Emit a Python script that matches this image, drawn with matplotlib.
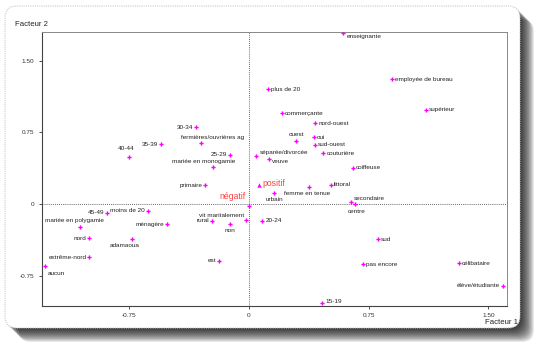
import numpy as np
import matplotlib
matplotlib.use("Agg")
import matplotlib.pyplot as plt
from matplotlib.patches import FancyBboxPatch

plt.rcParams['font.family'] = ['Liberation Sans', 'DejaVu Sans']

# coordonnees des modalites sur les facteurs 1 et 2
labels = ['enseignante', 'employée de bureau', 'supérieur', 'plus de 20', 'commerçante',
          'nord-ouest', 'ouest', 'oui', 'sud-ouest', 'couturière', 'séparée/divorcée',
          'veuve', 'coiffeuse', '30-34', 'fermières/ouvrières ag', '35-39', '40-44',
          '25-29', 'mariée en monogamie', 'primaire', 'femme en tenue', 'littoral',
          'urbain', 'secondaire', 'centre', '20-24', 'vit maritalement', 'rural', 'non',
          'est', 'moins de 20', 'ménagère', '45-49', 'mariée en polygamie', 'nord',
          'adamaoua', 'extrême-nord', 'aucun', 'sud', 'pas encore', 'célibataire',
          'élève/étudiante', '15-19']
f1 = [0.590, 0.895, 1.108, 0.117, 0.205,
      0.414, 0.295, 0.408, 0.412, 0.466, 0.042,
      0.123, 0.652, -0.334, -0.303, -0.552, -0.750,
      -0.119, -0.228, -0.276, 0.376, 0.514,
      0.157, 0.640, 0.665, 0.083, -0.019, -0.230, -0.119,
      -0.186, -0.635, -0.516, -0.888, -1.060, -1.003,
      -0.732, -1.001, -1.281, 0.810, 0.715, 1.317,
      1.590, 0.458]
f2 = [1.785, 1.305, 0.985, 1.200, 0.950,
      0.845, 0.662, 0.700, 0.620, 0.530, 0.505,
      0.467, 0.380, 0.805, 0.635, 0.624, 0.495,
      0.516, 0.387, 0.195, 0.181, 0.202,
      0.115, 0.020, -0.003, -0.178, -0.170, -0.174, -0.206,
      -0.596, -0.073, -0.213, -0.094, -0.240, -0.356,
      -0.363, -0.558, -0.645, -0.370, -0.631, -0.620,
      -0.855, -1.040]

# variables supplementaires
sup_labels = ['positif', 'négatif']
sup_f1 = [0.061, 0.0]
sup_f2 = [0.199, -0.020]

ticks = [-0.75, 0, 0.75, 1.50]
tick_labels = ['-0.75', '0', '0.75', '1.50']

# placement des etiquettes (decalage en pixels, alignements)
RIGHT = (3, 0, 'left', 'center')
LEFT = (-3, 0, 'right', 'center')
place = {lab: RIGHT for lab in labels}
for lab in ['30-34', '35-39', '25-29', 'primaire', '45-49', 'moins de 20', 'ménagère',
            'nord', 'extrême-nord', 'rural', 'est', 'élève/étudiante']:
    place[lab] = LEFT
place.update({
    'enseignante': (4, -3, 'left', 'center'),
    '40-44': (-3, 8, 'center', 'center'),
    'fermières/ouvrières ag': (12, 6, 'center', 'center'),
    'ouest': (0, 6, 'center', 'center'),
    'mariée en polygamie': (-6, 6, 'center', 'center'),
    'vit maritalement': (-24, 5, 'center', 'center'),
    'mariée en monogamie': (-9, 5, 'center', 'center'),
    'secondaire': (3, 4, 'left', 'center'),
    'séparée/divorcée': (4, 3, 'left', 'center'),
    'veuve': (3, -2, 'left', 'center'),
    '15-19': (3, 2, 'left', 'center'),
    'femme en tenue': (-2, -7, 'center', 'center'),
    'urbain': (0, -7, 'center', 'center'),
    'centre': (2, -7, 'center', 'center'),
    'non': (0, -7, 'center', 'center'),
    'adamaoua': (-8, -7, 'center', 'center'),
    'aucun': (3, -8, 'left', 'center'),
})
sup_place = {'positif': (4, 1, 'left', 'center'),
             'négatif': (-17, 9, 'center', 'center')}

W, H = 555, 349
fig = plt.figure(figsize=(W / 100, H / 100), dpi=100)

# cadre decoratif avec ombre
bg = fig.add_axes([0, 0, 1, 1], zorder=-10)
bg.set_xlim(0, W)
bg.set_ylim(H, 0)
bg.axis('off')
for k in range(14):
    off = 1 + k
    bg.add_patch(FancyBboxPatch((5 + off, 6 + off), 515, 322,
                                boxstyle='round,pad=0,rounding_size=12',
                                fc='black', ec='none', alpha=0.09))
bg.add_patch(FancyBboxPatch((5, 6), 515, 322, boxstyle='round,pad=0,rounding_size=12',
                            fc='white', ec='#c8c8c8', lw=0.8, ls=(0, (1, 1))))

ax = fig.add_axes([42 / W, 1 - 305.7 / H, (506.5 - 42) / W, (305.7 - 31.7) / H])
ax.set_xlim(-1.298, 1.614)
ax.set_ylim(-1.064, 1.802)
ax.patch.set_alpha(0)

ax.axhline(0, color='#333333', lw=0.6, ls=(0, (1, 1.5)), zorder=1)
ax.axvline(0, color='#333333', lw=0.6, ls=(0, (1, 1.5)), zorder=1)

ax.plot(f1, f2, ls='none', marker='P', ms=3.0, color='#ff00ff', mec='none', zorder=3)
for lab, x, y in zip(labels, f1, f2):
    dx, dy, ha, va = place[lab]
    ax.annotate(lab, (x, y), xytext=(dx, dy), textcoords='offset pixels',
                ha=ha, va=va, fontsize=4.6, color='#222222')

ax.plot(sup_f1[:1], sup_f2[:1], ls='none', marker='^', ms=3.2, color='#ff00ff', mec='none', zorder=3)
ax.plot(sup_f1[1:], sup_f2[1:], ls='none', marker='P', ms=3.0, color='#ff00ff', mec='none', zorder=3)
for lab, x, y in zip(sup_labels, sup_f1, sup_f2):
    dx, dy, ha, va = sup_place[lab]
    ax.annotate(lab, (x, y), xytext=(dx, dy), textcoords='offset pixels',
                ha=ha, va=va, fontsize=6.2, color='#ff4040')

ax.set_xticks(ticks)
ax.set_xticklabels(tick_labels)
ax.set_yticks(ticks)
ax.set_yticklabels(tick_labels)
ax.tick_params(length=2.5, width=0.6, labelsize=4.6, pad=3, colors='#333333')

for side in ['left', 'bottom']:
    ax.spines[side].set_color('#444444')
    ax.spines[side].set_linewidth(0.8)
for side in ['top', 'right']:
    ax.spines[side].set_color('#888888')
    ax.spines[side].set_linewidth(0.7)

fig.text(15 / W, 1 - 24 / H, 'Facteur 2', fontsize=5.6, color='#222222', va='center')
fig.text(518 / W, 1 - 322 / H, 'Facteur 1', fontsize=5.6, color='#222222', va='center', ha='right')

fig.savefig('out.png', dpi=100)
